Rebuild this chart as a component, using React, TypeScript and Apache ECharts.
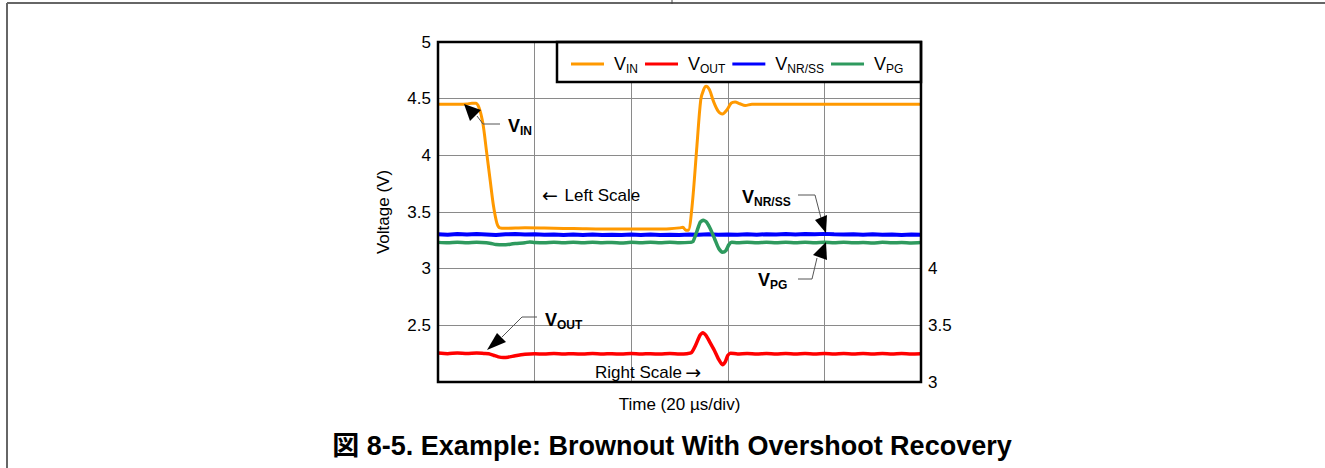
import React, { useEffect, useRef } from "react";
import * as echarts from "echarts";

// ---- data (time in µs, voltages in V) ----
const seriesNames = ["VIN", "VOUT", "VNR/SS", "VPG"];
const seriesColors = ["#ff9900", "#ff0000", "#0000ff", "#2e9a5e"];
const legendSubs: Record<string, string> = { VIN: "IN", VOUT: "OUT", "VNR/SS": "NR/SS", VPG: "PG" };

const leftTicks = [2, 2.5, 3, 3.5, 4, 4.5, 5];
const rightTicksShown = [3, 3.5, 4];

const vin: number[][] = [
  [0, 4.45], [2, 4.45], [4, 4.45], [6, 4.452], [7, 4.46], [7.8, 4.46], [8.5, 4.42], [9.3, 4.28],
  [10, 4.05], [10.8, 3.78], [11.5, 3.55], [12.2, 3.4], [12.8, 3.36], [14, 3.356], [18, 3.36],
  [22, 3.358], [26, 3.355], [30, 3.352], [34, 3.35], [38, 3.35], [42, 3.349], [46, 3.35],
  [48, 3.352], [50, 3.36], [50.7, 3.365], [51.3, 3.34], [51.8, 3.34], [52.6, 3.55], [53.6, 4.08],
  [54.4, 4.49], [55, 4.58], [55.5, 4.61], [56.2, 4.58], [57, 4.48], [58, 4.39], [58.9, 4.365],
  [59.8, 4.4], [60.7, 4.46], [61.5, 4.47], [62.5, 4.455], [63.6, 4.44], [65, 4.45], [70, 4.45],
  [80, 4.45], [90, 4.45], [100, 4.45],
];

const vout: number[][] = [
  [0, 3.255], [2, 3.25], [4, 3.256], [6, 3.251], [8, 3.255], [9.5, 3.252], [10.5, 3.25],
  [11.5, 3.236], [12.5, 3.222], [13.5, 3.216], [14.5, 3.219], [16, 3.232], [18, 3.245], [20, 3.25],
  [22, 3.246], [24, 3.251], [26, 3.247], [28, 3.25], [30, 3.246], [32, 3.251], [34, 3.247],
  [36, 3.25], [38, 3.246], [40, 3.251], [42, 3.247], [44, 3.25], [46, 3.246], [48, 3.251],
  [50, 3.247], [51.5, 3.25], [52.5, 3.26], [53.4, 3.33], [54.2, 3.41], [54.8, 3.435], [55.5, 3.41],
  [56.3, 3.35], [57.2, 3.28], [58.1, 3.2], [58.9, 3.152], [59.5, 3.18], [60, 3.235], [60.6, 3.253],
  [62, 3.248], [64, 3.252], [66, 3.247], [68, 3.251], [70, 3.248], [72, 3.252], [74, 3.247],
  [76, 3.251], [78, 3.248], [80, 3.252], [82, 3.247], [84, 3.251], [86, 3.248], [88, 3.252],
  [90, 3.247], [92, 3.251], [94, 3.247], [96, 3.252], [98, 3.248], [100, 3.25],
];

const vnrss: number[][] = [
  [0, 3.304], [2, 3.3], [4, 3.306], [6, 3.301], [8, 3.305], [10, 3.302], [12, 3.298], [14, 3.303],
  [16, 3.306], [18, 3.301], [20, 3.304], [22, 3.299], [24, 3.302], [26, 3.297], [28, 3.301],
  [30, 3.298], [32, 3.302], [34, 3.296], [36, 3.3], [38, 3.297], [40, 3.301], [42, 3.298],
  [44, 3.302], [46, 3.297], [48, 3.3], [50, 3.298], [52, 3.301], [54, 3.299], [56, 3.303],
  [58, 3.3], [60, 3.302], [62, 3.299], [64, 3.303], [66, 3.3], [68, 3.304], [70, 3.301],
  [72, 3.305], [74, 3.302], [76, 3.306], [78, 3.303], [80, 3.307], [82, 3.303], [84, 3.301],
  [86, 3.304], [88, 3.3], [90, 3.303], [92, 3.299], [94, 3.302], [96, 3.298], [98, 3.301], [100, 3.299],
];

const vpg: number[][] = [
  [0, 3.232], [2, 3.228], [4, 3.233], [6, 3.229], [8, 3.232], [10, 3.228], [11, 3.222], [12, 3.214],
  [13.5, 3.211], [15, 3.216], [16, 3.222], [18, 3.229], [19, 3.236], [20, 3.231], [22, 3.228],
  [24, 3.233], [26, 3.229], [28, 3.232], [30, 3.228], [32, 3.233], [34, 3.229], [36, 3.231],
  [38, 3.227], [40, 3.232], [42, 3.228], [44, 3.233], [46, 3.229], [48, 3.232], [50, 3.229],
  [52, 3.232], [52.8, 3.24], [53.6, 3.33], [54.3, 3.41], [54.9, 3.428], [55.6, 3.41], [56.4, 3.35],
  [57.3, 3.26], [58.1, 3.18], [58.9, 3.145], [59.6, 3.16], [60.2, 3.21], [60.8, 3.232], [62, 3.229],
  [64, 3.233], [66, 3.228], [68, 3.232], [70, 3.229], [72, 3.234], [74, 3.229], [76, 3.232],
  [78, 3.228], [80, 3.233], [82, 3.229], [84, 3.232], [86, 3.228], [88, 3.231], [90, 3.227],
  [92, 3.232], [94, 3.228], [96, 3.231], [98, 3.227], [100, 3.23],
];

const FONT = "'Liberation Sans', Arial, 'Noto Sans CJK JP', sans-serif";
const ARROW_FONT = "'DejaVu Sans', sans-serif";

const subRich = {
  v: { fontSize: 18, fontWeight: "bold", fontFamily: FONT, fill: "#000", color: "#000", lineHeight: 22 },
  s: { fontSize: 12, fontWeight: "bold", fontFamily: FONT, fill: "#000", color: "#000", lineHeight: 12, verticalAlign: "bottom" },
};

const scaleRich = {
  a: { fontSize: 19, fontFamily: ARROW_FONT, fill: "#000", color: "#000", lineHeight: 20 },
  t: { fontSize: 17, fontFamily: FONT, fill: "#000", color: "#000", lineHeight: 20 },
};

function label(x: number, y: number, sub: string) {
  return {
    type: "text",
    x,
    y,
    z: 10,
    style: { text: `{v|V}{s|${sub}}`, rich: subRich, verticalAlign: "middle", align: "left" },
  };
}

export default function App() {
  const ref = useRef<HTMLDivElement>(null);
  useEffect(() => {
    if (!ref.current) return;
    const chart = echarts.init(ref.current, null, { renderer: "svg" });
    const lineGray = "#555";
    const option: any = {
      animation: false,
      backgroundColor: "#fff",
      textStyle: { fontFamily: FONT },
      grid: { left: 438, top: 42, width: 483, height: 340 },
      legend: {
        data: seriesNames,
        left: 566,
        top: 50,
        z: 6,
        icon: "rect",
        itemWidth: 33,
        itemHeight: 3,
        itemGap: 7,
        textStyle: {
          color: "#000",
          fontSize: 18,
          fontFamily: FONT,
          rich: {
            v: { fontSize: 18, fontFamily: FONT, color: "#000", lineHeight: 22, padding: [0, 0, 0, 5] },
            s: { fontSize: 12, fontFamily: FONT, color: "#000", lineHeight: 12, verticalAlign: "bottom" },
          },
        },
        formatter: (name: string) => `{v|V}{s|${legendSubs[name]}}`,
      },
      xAxis: {
        type: "value",
        min: 0,
        max: 100,
        interval: 20,
        axisLabel: { show: false },
        axisLine: { show: false },
        axisTick: { show: false },
        splitLine: { show: true, lineStyle: { color: "#8a8a8a", width: 1 } },
        name: "Time (20 µs/div)",
        nameLocation: "middle",
        nameGap: 14,
        nameTextStyle: { fontSize: 17, color: "#000", fontFamily: FONT },
      },
      yAxis: [
        {
          type: "value",
          min: leftTicks[0],
          max: leftTicks[leftTicks.length - 1],
          interval: 0.5,
          axisLine: { show: false },
          axisTick: { show: false },
          axisLabel: {
            fontSize: 17,
            color: "#000",
            margin: 7,
            fontFamily: FONT,
            formatter: (v: number) => (v === leftTicks[0] ? "" : String(v)),
          },
          splitLine: { show: true, lineStyle: { color: "#8a8a8a", width: 1 } },
          name: "Voltage (V)",
          nameLocation: "middle",
          nameGap: 46,
          nameTextStyle: { fontSize: 17, color: "#000", fontFamily: FONT },
        },
        {
          type: "value",
          min: 3,
          max: 6,
          interval: 0.5,
          position: "right",
          axisLine: { show: false },
          axisTick: { show: false },
          splitLine: { show: false },
          axisLabel: {
            fontSize: 17,
            color: "#000",
            margin: 7,
            fontFamily: FONT,
            formatter: (v: number) => (rightTicksShown.indexOf(v) >= 0 ? String(v) : ""),
          },
        },
      ],
      series: [
        { name: "VIN", type: "line", data: vin, yAxisIndex: 0, smooth: 0.3, symbol: "none", lineStyle: { color: seriesColors[0], width: 3 }, itemStyle: { color: seriesColors[0] }, z: 5 },
        { name: "VOUT", type: "line", data: vout, yAxisIndex: 1, smooth: 0.2, symbol: "none", lineStyle: { color: seriesColors[1], width: 3.5 }, itemStyle: { color: seriesColors[1] }, z: 4 },
        { name: "VNR/SS", type: "line", data: vnrss, yAxisIndex: 0, symbol: "none", lineStyle: { color: seriesColors[2], width: 4 }, itemStyle: { color: seriesColors[2] }, z: 3 },
        { name: "VPG", type: "line", data: vpg, yAxisIndex: 0, smooth: 0.2, symbol: "none", lineStyle: { color: seriesColors[3], width: 3.5 }, itemStyle: { color: seriesColors[3] }, z: 3 },
      ],
      graphic: {
        elements: [
          // page border lines
          { type: "line", z: 1, shape: { x1: 7, y1: 3, x2: 1325, y2: 3 }, style: { stroke: "#666", lineWidth: 2 } },
          { type: "line", z: 1, shape: { x1: 7, y1: 3, x2: 7, y2: 468 }, style: { stroke: "#666", lineWidth: 2 } },
          { type: "line", z: 1, shape: { x1: 672, y1: 0, x2: 672, y2: 4 }, style: { stroke: "#444", lineWidth: 1 } },
          // plot frame
          { type: "rect", z: 7, shape: { x: 438, y: 42, width: 483, height: 340 }, style: { fill: "none", stroke: "#000", lineWidth: 2.5 } },
          // legend box
          { type: "rect", z: 5, shape: { x: 557, y: 42, width: 364, height: 40 }, style: { fill: "#fff", stroke: "#000", lineWidth: 2.5 } },
          // VIN annotation
          { type: "polygon", z: 10, shape: { points: [[464, 104], [470, 121], [481, 110]] }, style: { fill: "#000" } },
          { type: "polyline", z: 10, shape: { points: [[477, 116], [483, 124], [500, 124]] }, style: { stroke: lineGray, lineWidth: 1, fill: "none" } },
          label(508, 126, "IN"),
          // Left scale
          { type: "text", z: 10, x: 542, y: 195, style: { text: "{a|←}  {t|Left Scale}", rich: scaleRich, verticalAlign: "middle", align: "left" } },
          // VNR/SS annotation
          label(742, 197, "NR/SS"),
          { type: "polyline", z: 10, shape: { points: [[798, 195], [815, 195], [821, 218]] }, style: { stroke: lineGray, lineWidth: 1, fill: "none" } },
          { type: "polygon", z: 10, shape: { points: [[815, 220], [827, 215], [826, 233]] }, style: { fill: "#000" } },
          // VPG annotation
          label(758, 280, "PG"),
          { type: "polyline", z: 10, shape: { points: [[798, 279], [812, 279], [817, 258]] }, style: { stroke: lineGray, lineWidth: 1, fill: "none" } },
          { type: "polygon", z: 10, shape: { points: [[813, 255], [827, 260], [826, 242]] }, style: { fill: "#000" } },
          // VOUT annotation
          label(545, 320, "OUT"),
          { type: "polyline", z: 10, shape: { points: [[537, 317], [522, 317], [502, 337]] }, style: { stroke: lineGray, lineWidth: 1, fill: "none" } },
          { type: "polygon", z: 10, shape: { points: [[487, 350], [497, 333], [506, 342]] }, style: { fill: "#000" } },
          // Right scale
          { type: "text", z: 10, x: 595, y: 372, style: { text: "{t|Right Scale} {a|→}", rich: scaleRich, verticalAlign: "middle", align: "left" } },
          // Title
          { type: "text", z: 10, x: 672, y: 446, style: { text: "図 8-5. Example: Brownout With Overshoot Recovery", fontSize: 27, fontWeight: "bold", fontFamily: FONT, fill: "#000", verticalAlign: "middle", align: "center" } },
        ],
      },
    };
    chart.setOption(option);
    return () => chart.dispose();
  }, []);
  return <div ref={ref} style={{ position: "fixed", left: 0, top: 0, width: 1325, height: 468, background: "#fff" }} />;
}
